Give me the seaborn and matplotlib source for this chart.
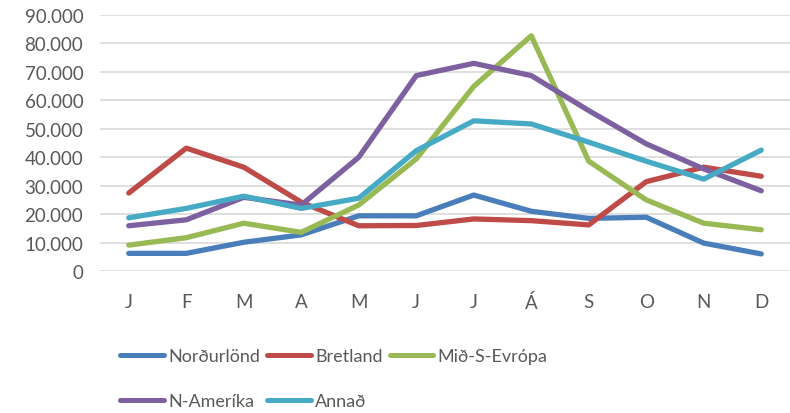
import matplotlib
matplotlib.use('Agg')

import pandas as pd
import matplotlib.pyplot as plt
import seaborn as sns

months = ['J', 'F', 'M', 'A', 'M', 'J', 'J', 'Á', 'S', 'O', 'N', 'D']
series_names = ['Norðurlönd', 'Bretland', 'Mið-S-Evrópa', 'N-Ameríka', 'Annað']

nordurlond = [6200, 6200, 10100, 12700, 19400, 19400, 26700, 21000, 18500, 18900, 9800, 6000]
bretland = [27400, 43200, 36500, 24200, 15900, 16000, 18300, 17700, 16200, 31400, 36500, 33300]
mid_s_evropa = [9100, 11700, 16800, 13600, 23200, 39400, 64900, 82700, 38600, 25000, 16800, 14500]
n_amerika = [15900, 18000, 25900, 23200, 40000, 68700, 73000, 68700, 56400, 44700, 35900, 28200]
annad = [18700, 22000, 26300, 22000, 25600, 42300, 52800, 51700, 45300, 38600, 32300, 42500]

colors = ['#4a7ebb', '#be4b48', '#98b954', '#7d60a0', '#46aac5']

rows = []
for name, vals in zip(series_names, [nordurlond, bretland, mid_s_evropa, n_amerika, annad]):
    for i, v in enumerate(vals):
        rows.append({'month': i, 'value': v, 'series': name})
df = pd.DataFrame(rows)

sns.set_style('white')
plt.rcParams['font.family'] = ['Lato', 'DejaVu Sans']
text_color = '#595959'

fig = plt.figure(figsize=(7.9, 4.14), dpi=100)
ax = fig.add_axes([100 / 790, 1 - 272 / 414, 690 / 790, 256 / 414])

sns.lineplot(data=df, x='month', y='value', hue='series', hue_order=series_names,
             palette=colors, linewidth=3.8, ax=ax, legend=False,
             solid_capstyle='round', solid_joinstyle='round', clip_on=False)

ax.set_xlim(-0.5, 11.5)
ax.set_ylim(0, 90000)
ax.set_yticks(range(0, 90001, 10000))
ax.set_yticklabels(['0'] + [f'{v // 1000}.000' for v in range(10000, 90001, 10000)])
ax.set_xticks(range(12))
ax.set_xticklabels(months)
ax.tick_params(axis='both', length=0, labelsize=13.5, colors=text_color)
ax.tick_params(axis='y', pad=12)
ax.tick_params(axis='x', pad=16)
ax.set_xlabel('')
ax.set_ylabel('')
ax.yaxis.grid(True, color='#d9d9d9', linewidth=1.2)
ax.set_axisbelow(True)
for s in ax.spines.values():
    s.set_visible(False)

# legend fills column by column, so reorder to get rows like the original
handles = {n: plt.Line2D([], [], color=c, linewidth=3.6, solid_capstyle='round')
           for n, c in zip(series_names, colors)}
order = ['Norðurlönd', 'N-Ameríka', 'Bretland', 'Annað', 'Mið-S-Evrópa']
fig.legend([handles[n] for n in order], order, loc='upper left',
           bbox_to_anchor=(104 / 790, 1 - 333 / 414),
           ncol=3, frameon=False, fontsize=13, handlelength=2.4, handletextpad=0.25,
           columnspacing=0.4, labelspacing=1.6, labelcolor=text_color)

fig.savefig('out.png', dpi=100)
